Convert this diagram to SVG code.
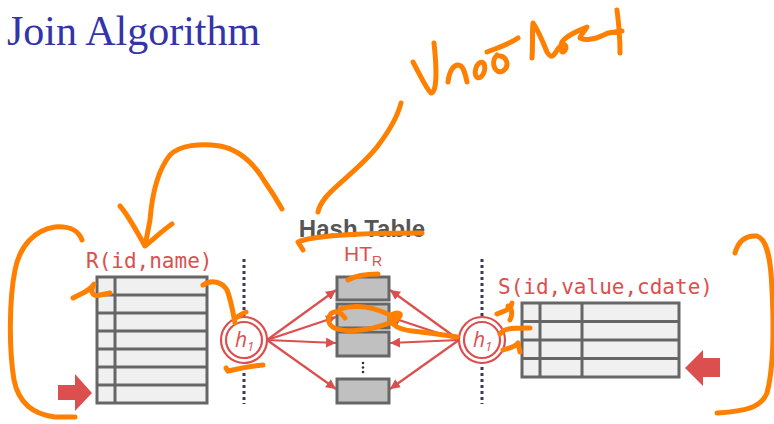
<svg xmlns="http://www.w3.org/2000/svg" width="774" height="424" viewBox="0 0 774 424">
<defs>
<style>
.title{font-family:"Liberation Serif",serif;font-size:42px;fill:#3333aa}
.mono{font-family:"DejaVu Sans Mono","Liberation Mono",monospace;font-size:21px;fill:#dc4f4f}
.tbl{fill:#f0f0f0;stroke:#666;stroke-width:3}
.ln{stroke:#666;stroke-width:3;fill:none}
.bucket{fill:#c0c0c0;stroke:#666;stroke-width:3}
.dot{stroke:#3a3a5a;stroke-width:3;stroke-dasharray:3 3;fill:none}
.hc{fill:#fff;stroke:#dc4f4f;stroke-width:2.2}
.htxt{font-family:"Open Sans","DejaVu Sans",sans-serif;font-style:italic;font-size:21px;fill:#dc4f4f}
.conn{stroke:#dc4f4f;stroke-width:2.2;fill:none;marker-end:url(#ah)}
.ink{stroke:#ff8000;stroke-width:5;fill:none;stroke-linecap:round;stroke-linejoin:round}
.big{fill:#dc4f4f}
</style>
<marker id="ah" viewBox="0 0 10 10" refX="10" refY="5" markerWidth="10" markerHeight="10" markerUnits="userSpaceOnUse" orient="auto">
<path d="M0,0 L10,5 L0,10 z" fill="#dc4f4f"/>
</marker>
</defs>
<rect width="774" height="424" fill="#fff"/>

<g id="title"><text class="title" x="7" y="45">Join Algorithm</text></g>

<g id="dividers">
<line class="dot" x1="244" y1="259" x2="244" y2="404"/>
<line class="dot" x1="482" y1="259" x2="482" y2="404"/>
</g>

<g id="connectors">
<line class="conn" x1="267" y1="340" x2="336" y2="290"/>
<line class="conn" x1="267" y1="340" x2="336" y2="317"/>
<line class="conn" x1="267" y1="340" x2="336" y2="343"/>
<line class="conn" x1="267" y1="340" x2="336" y2="389"/>
<line class="conn" x1="459" y1="340" x2="390" y2="290"/>
<line class="conn" x1="459" y1="340" x2="390" y2="317"/>
<line class="conn" x1="459" y1="340" x2="390" y2="343"/>
<line class="conn" x1="459" y1="340" x2="390" y2="389"/>
</g>

<g id="table-R">
<text class="mono" x="86" y="268">R(id,name)</text>
<rect class="tbl" x="97" y="277" width="110" height="126"/>
<path class="ln" d="M115,277V403 M97,295H207 M97,313H207 M97,331H207 M97,349H207 M97,367H207 M97,385H207"/>
</g>

<g id="arrow-R"><path class="big" d="M58,385 H75 V374 L92,393 L75,411 V400 H58 z"/></g>

<g id="h1-left">
<circle class="hc" cx="244" cy="340" r="23"/>
<circle class="hc" cx="244" cy="340" r="18"/>
<text class="htxt" x="235" y="347">h<tspan font-size="13" dy="4">1</tspan></text>
</g>

<g id="hash-table">
<text x="362" y="237" text-anchor="middle" font-family="Liberation Sans,Arial,sans-serif" font-weight="bold" font-size="24" fill="#555">Hash Table</text>
<text x="344" y="261" font-family="Liberation Sans,Arial,sans-serif" font-size="21" fill="#dc4f4f">HT<tspan font-size="14" dy="5">R</tspan></text>
<rect class="bucket" x="337" y="277" width="52" height="23"/>
<rect class="bucket" x="337" y="304" width="52" height="24"/>
<rect class="bucket" x="337" y="332" width="52" height="24"/>
<rect class="bucket" x="337" y="379" width="52" height="24"/>
<circle cx="363" cy="363" r="1.3" fill="#333"/>
<circle cx="363" cy="367.5" r="1.3" fill="#333"/>
<circle cx="363" cy="372" r="1.3" fill="#333"/>
</g>

<g id="h1-right">
<circle class="hc" cx="482" cy="340" r="23"/>
<circle class="hc" cx="482" cy="340" r="18"/>
<text class="htxt" x="473" y="347">h<tspan font-size="13" dy="4">1</tspan></text>
</g>

<g id="table-S">
<text class="mono" x="498" y="294">S(id,value,cdate)</text>
<rect class="tbl" x="522" y="303" width="157" height="74"/>
<path class="ln" d="M540,303V377 M582,303V377 M522,321.5H679 M522,340H679 M522,358.5H679"/>
</g>

<g id="arrow-S"><path class="big" d="M720,358 H703 V350 L685,368 L703,386 V377 H720 z"/></g>

<g id="ink">
<path class="ink" d="M82,240 C78,230 70,226 55,227 C35,230 20,245 15,270 C9,300 9,350 14,380 C18,400 30,414 55,417 L75,417"/>
<path class="ink" d="M735,253 C738,242 745,235 757,236 C768,240 771,262 772,290 C774,330 773,370 767,393 C762,405 752,411 717,413"/>
<path class="ink" d="M73,298 C82,293 90,291 94,284 C90,292 92,297 100,295 L110,293"/>
<path class="ink" d="M203,285 C212,279 222,282 227,290 C231,300 233,312 235,323 M236,318 C240,315 243,313 246,312"/>
<path class="ink" d="M228,371 C240,368 252,366 263,365 M228,371 L226,368"/>
<path class="ink" d="M282,209 C277,200 272,192 265,182 C255,165 240,150 220,146 C200,143 180,145 170,155 C158,170 152,195 150,220 L145,246 M120,206 C128,215 136,230 145,246 C155,238 163,230 172,224"/>
<path class="ink" d="M401,103 C398,115 390,130 377,147 C365,162 350,174 337,186 C328,194 320,202 318,212"/>
<path class="ink" d="M303,250 L298,242 C312,236 360,233 422,233"/>
<path class="ink" d="M413,62 C420,75 427,90 431,93 C437,93 437,70 434,43"/>
<path class="ink" d="M448,82 C449,72 453,65 458,65 C463,65 465,72 467,82"/>
<ellipse class="ink" cx="480" cy="70" rx="4.5" ry="8" transform="rotate(15 480 70)"/>
<path class="ink" d="M487,52 C497,48 508,45 518,38 M497,55 C490,62 495,75 503,71 C510,66 507,57 500,56"/>
<path class="ink" d="M532,58 C533,45 532,32 533,23 C538,30 543,42 547,52 C550,57 552,58 556,52 C560,44 566,42 566,48 C564,55 558,52 562,42 C566,36 575,32 587,27 C584,32 580,36 580,38 C588,42 598,38 608,33 L622,31 M617,10 C619,25 620,40 620,53"/>
<path class="ink" d="M348,280 C355,276 366,274 378,274"/>
<path class="ink" d="M345,318 C338,308 327,311 329,322 C332,334 365,333 392,322 C404,316 402,311 393,314 C386,320 394,329 412,331 C430,333 445,335 457,337 M340,309 C355,304 375,306 395,318"/>
<path class="ink" d="M497,314 C503,311 508,311 511,306 L512,303 M508,306 C512,308 513,314 510,320"/>
<path class="ink" d="M500,334 C503,329 508,328 530,328"/>
<path class="ink" d="M503,350 C508,348 514,348 518,343 L520,352"/>
</g>
</svg>
